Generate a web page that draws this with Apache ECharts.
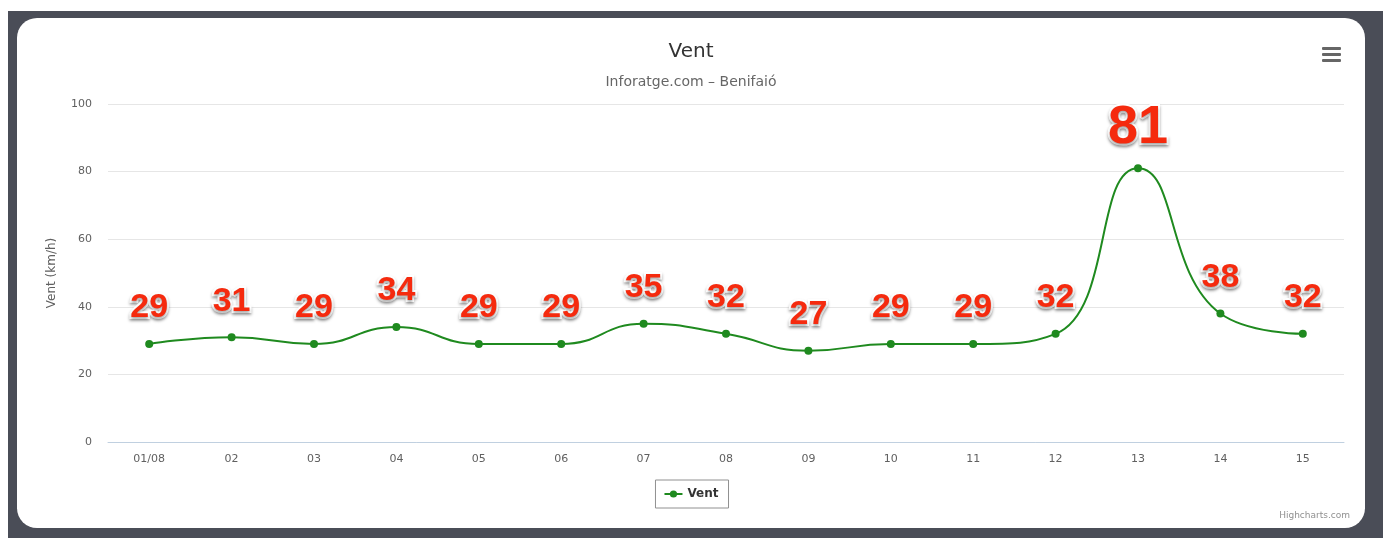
<!DOCTYPE html>
<html>
<head>
<meta charset="utf-8">
<script src="https://cdn.jsdelivr.net/npm/echarts@6/dist/echarts.min.js"></script>
<style>
  html, body { margin: 0; padding: 0; background: #fff; }
  #frame { position: absolute; left: 8px; top: 11px; width: 1375px; height: 527px; background: #4a4d57; }
  #chart { position: absolute; left: 17px; top: 18px; width: 1348px; height: 510px; background: #fff; border-radius: 20px; overflow: hidden; }
</style>
</head>
<body>
<div id="frame"></div>
<div id="chart"></div>
<script>
const days = ['01/08', '02', '03', '04', '05', '06', '07', '08', '09', '10', '11', '12', '13', '14', '15'];
const vent = [29, 31, 29, 34, 29, 29, 35, 32, 27, 29, 29, 32, 81, 38, 32];
const yTicks = [0, 20, 40, 60, 80, 100];

const font = 'DejaVu Sans';
const peak = vent.indexOf(Math.max(...vent));

// the peak gets a bigger label, like in the screenshot
const points = vent.map((v, i) => i === peak ? { value: v, label: { fontSize: 54, distance: 9 } } : v);

const chart = echarts.init(document.getElementById('chart'));
chart.setOption({
  backgroundColor: 'transparent',
  animation: false,
  title: [
    { text: 'Vent', left: 'center', top: 19, textStyle: { fontFamily: font, fontSize: 20, fontWeight: 'normal', color: '#333' } },
    { text: 'Inforatge.com – Benifaió', left: 'center', top: 52, textStyle: { fontFamily: font, fontSize: 14, fontWeight: 'normal', color: '#666' } },
    { text: 'Highcharts.com', right: 10, bottom: 3, textStyle: { fontFamily: font, fontSize: 9, fontWeight: 'normal', color: '#909090' } }
  ],
  grid: { left: 91, right: 21, top: 86, bottom: 86 },
  legend: {
    bottom: 20,
    left: 'center',
    borderColor: '#909090',
    borderWidth: 1,
    borderRadius: 0,
    padding: [8, 10, 8, 8],
    itemWidth: 18,
    itemHeight: 9,
    textStyle: { fontFamily: font, fontSize: 12, fontWeight: 'bold', color: '#333' }
  },
  xAxis: {
    type: 'category',
    data: days,
    boundaryGap: true,
    axisLine: { lineStyle: { color: '#c0d0e0' } },
    axisTick: { show: false },
    axisLabel: { fontFamily: font, fontSize: 11, color: '#606060', margin: 12 }
  },
  yAxis: {
    type: 'value',
    min: yTicks[0],
    max: yTicks[yTicks.length - 1],
    interval: yTicks[1] - yTicks[0],
    name: 'Vent (km/h)',
    nameLocation: 'middle',
    nameGap: 50,
    nameTextStyle: { fontFamily: font, fontSize: 12, color: '#606060' },
    axisLabel: { fontFamily: font, fontSize: 11, color: '#606060', margin: 16 },
    splitLine: { lineStyle: { color: '#e6e6e6' } }
  },
  series: [{
    name: 'Vent',
    type: 'line',
    smooth: 0.5,
    data: points,
    symbol: 'circle',
    symbolSize: 8,
    itemStyle: { color: '#1f8a1f' },
    lineStyle: { color: '#1f8a1f', width: 2 },
    label: {
      show: true,
      position: 'top',
      distance: 15,
      fontFamily: 'Liberation Sans',
      fontWeight: 'bold',
      fontSize: 34,
      color: '#f52a0e',
      textBorderColor: '#fff',
      textBorderWidth: 4,
      textShadowColor: 'rgba(0,0,0,0.35)',
      textShadowBlur: 3,
      textShadowOffsetY: 2
    }
  }],
  graphic: [
    { type: 'rect', right: 24, top: 29, shape: { width: 19, height: 3, r: 1 }, style: { fill: '#666' } },
    { type: 'rect', right: 24, top: 35, shape: { width: 19, height: 3, r: 1 }, style: { fill: '#666' } },
    { type: 'rect', right: 24, top: 41, shape: { width: 19, height: 3, r: 1 }, style: { fill: '#666' } }
  ]
});
</script>
</body>
</html>
